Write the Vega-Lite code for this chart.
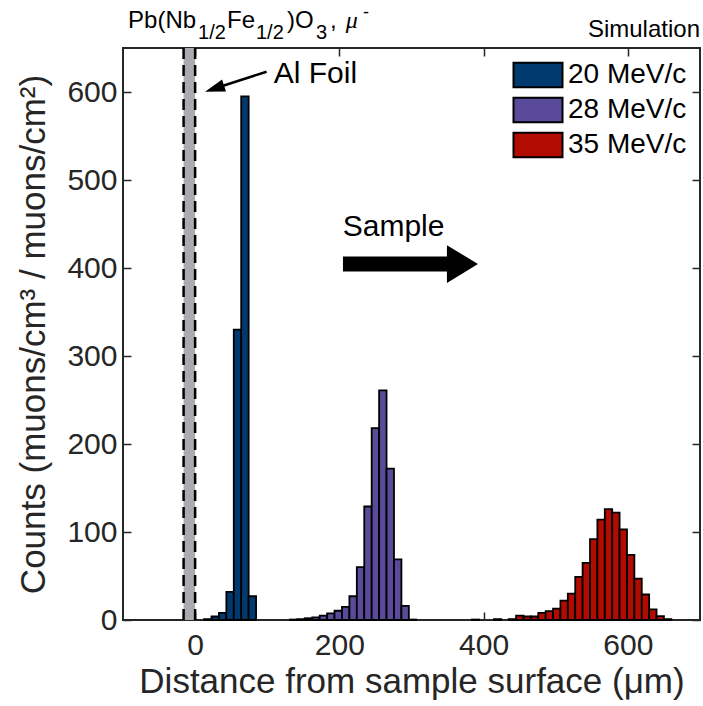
{
  "$schema": "https://vega.github.io/schema/vega-lite/v6.json",
  "width": 577,
  "height": 572,
  "autosize": {"type": "none"},
  "padding": {"left": 123, "top": 48, "right": 3, "bottom": 86},
  "background": "white",
  "config": {
    "view": {"stroke": "#262626", "strokeWidth": 2},
    "font": "Liberation Sans",
    "axis": {
      "grid": false, "domain": false,
      "labelFont": "Liberation Sans", "titleFont": "Liberation Sans",
      "labelColor": "#262626", "titleColor": "#262626", "tickColor": "#262626",
      "tickWidth": 1.5, "tickSize": -8,
      "labelFontSize": 30, "titleFontSize": 35, "titleFontWeight": "normal"
    },
    "legend": {
      "orient": "top-right", "offset": 12, "padding": 1,
      "labelFont": "Liberation Sans", "labelFontSize": 28, "labelColor": "#000000",
      "symbolType": "M-1.96,-0.98L1.96,-0.98L1.96,0.98L-1.96,0.98Z", "symbolSize": 625,
      "symbolStrokeColor": "#000000", "symbolStrokeWidth": 2, "symbolOpacity": 1,
      "labelOffset": 16, "rowPadding": 1
    }
  },
  "datasets": {
    "hist": [
      {"series": "20 MeV/c", "start": 12.4, "end": 22.7, "count": 1},
      {"series": "20 MeV/c", "start": 22.7, "end": 33.0, "count": 4},
      {"series": "20 MeV/c", "start": 33.0, "end": 43.3, "count": 8},
      {"series": "20 MeV/c", "start": 43.3, "end": 53.6, "count": 32},
      {"series": "20 MeV/c", "start": 53.6, "end": 63.9, "count": 330},
      {"series": "20 MeV/c", "start": 63.9, "end": 74.2, "count": 595},
      {"series": "20 MeV/c", "start": 74.2, "end": 84.5, "count": 27},
      {"series": "28 MeV/c", "start": 131.5, "end": 141.8, "count": 0.5},
      {"series": "28 MeV/c", "start": 141.8, "end": 152.1, "count": 1},
      {"series": "28 MeV/c", "start": 152.1, "end": 162.4, "count": 2},
      {"series": "28 MeV/c", "start": 162.4, "end": 172.7, "count": 3},
      {"series": "28 MeV/c", "start": 172.7, "end": 183.0, "count": 5},
      {"series": "28 MeV/c", "start": 183.0, "end": 193.3, "count": 7.5},
      {"series": "28 MeV/c", "start": 193.3, "end": 203.6, "count": 10.5},
      {"series": "28 MeV/c", "start": 203.6, "end": 213.9, "count": 15},
      {"series": "28 MeV/c", "start": 213.9, "end": 224.2, "count": 27},
      {"series": "28 MeV/c", "start": 224.2, "end": 234.5, "count": 60},
      {"series": "28 MeV/c", "start": 234.5, "end": 244.8, "count": 129},
      {"series": "28 MeV/c", "start": 244.8, "end": 255.1, "count": 218},
      {"series": "28 MeV/c", "start": 255.1, "end": 265.4, "count": 261},
      {"series": "28 MeV/c", "start": 265.4, "end": 275.7, "count": 172},
      {"series": "28 MeV/c", "start": 275.7, "end": 286.0, "count": 69},
      {"series": "28 MeV/c", "start": 286.0, "end": 296.3, "count": 16},
      {"series": "28 MeV/c", "start": 296.3, "end": 306.6, "count": 0.5},
      {"series": "35 MeV/c", "start": 383.5, "end": 393.75, "count": 0.5},
      {"series": "35 MeV/c", "start": 414.25, "end": 424.5, "count": 1},
      {"series": "35 MeV/c", "start": 434.75, "end": 445, "count": 1},
      {"series": "35 MeV/c", "start": 445, "end": 455.25, "count": 5},
      {"series": "35 MeV/c", "start": 455.25, "end": 465.5, "count": 4},
      {"series": "35 MeV/c", "start": 465.5, "end": 475.75, "count": 4},
      {"series": "35 MeV/c", "start": 475.75, "end": 486, "count": 8},
      {"series": "35 MeV/c", "start": 486, "end": 496.25, "count": 10},
      {"series": "35 MeV/c", "start": 496.25, "end": 506.5, "count": 13},
      {"series": "35 MeV/c", "start": 506.5, "end": 516.75, "count": 22},
      {"series": "35 MeV/c", "start": 516.75, "end": 527, "count": 30},
      {"series": "35 MeV/c", "start": 527, "end": 537.25, "count": 49},
      {"series": "35 MeV/c", "start": 537.25, "end": 547.5, "count": 65},
      {"series": "35 MeV/c", "start": 547.5, "end": 557.75, "count": 92},
      {"series": "35 MeV/c", "start": 557.75, "end": 568, "count": 114},
      {"series": "35 MeV/c", "start": 568, "end": 578.25, "count": 126},
      {"series": "35 MeV/c", "start": 578.25, "end": 588.5, "count": 122},
      {"series": "35 MeV/c", "start": 588.5, "end": 598.75, "count": 103},
      {"series": "35 MeV/c", "start": 598.75, "end": 609, "count": 74},
      {"series": "35 MeV/c", "start": 609, "end": 619.25, "count": 47},
      {"series": "35 MeV/c", "start": 619.25, "end": 629.5, "count": 29},
      {"series": "35 MeV/c", "start": 629.5, "end": 639.75, "count": 12},
      {"series": "35 MeV/c", "start": 639.75, "end": 650, "count": 4.5},
      {"series": "35 MeV/c", "start": 650, "end": 660.25, "count": 1}
    ],
    "foil": [{"edge": -16}, {"edge": 0}]
  },
  "layer": [
    {
      "data": {"values": [{"a": -16, "b": 0}]},
      "mark": {"type": "rect", "fill": "#A9ABAE"},
      "encoding": {
        "x": {"field": "a", "type": "quantitative", "scale": {"domain": [-100, 700], "nice": false, "zero": false},
              "axis": {"orient": "top", "labels": false, "title": null, "values": [0, 200, 400, 600]}},
        "x2": {"field": "b"},
        "y": {"datum": 0, "type": "quantitative", "scale": {"domain": [0, 650], "nice": false},
              "axis": {"orient": "right", "labels": false, "title": null, "values": [0, 100, 200, 300, 400, 500, 600]}},
        "y2": {"datum": 650}
      }
    },
    {
      "data": {"name": "foil"},
      "mark": {"type": "rule", "color": "#000000", "strokeWidth": 2.5, "strokeDash": [11, 6]},
      "encoding": {
        "x": {"field": "edge", "type": "quantitative", "axis": null}
      }
    },
    {
      "data": {"name": "hist"},
      "mark": {"type": "rect", "stroke": "#000000", "strokeWidth": 1.8},
      "encoding": {
        "x": {"field": "start", "type": "quantitative",
              "axis": {"orient": "bottom", "values": [0, 200, 400, 600], "labelPadding": 18,
                       "title": "Distance from sample surface (μm)", "titlePadding": 4}},
        "x2": {"field": "end"},
        "y": {"field": "count", "type": "quantitative",
              "axis": {"orient": "left", "values": [0, 100, 200, 300, 400, 500, 600], "labelPadding": 14,
                       "title": "Counts (muons/cm³ / muons/cm²)", "titlePadding": 15}},
        "y2": {"datum": 0},
        "color": {"field": "series", "type": "nominal",
                  "scale": {"domain": ["20 MeV/c", "28 MeV/c", "35 MeV/c"], "range": ["#003A6E", "#5A4B9A", "#B20C02"]},
                  "legend": {"title": null}}
      }
    },
    {
      "data": {"values": [{}]},
      "mark": {"type": "rule", "color": "#000000", "strokeWidth": 2.5},
      "encoding": {
        "x": {"datum": 99, "type": "quantitative", "axis": null},
        "y": {"datum": 623, "type": "quantitative", "axis": null},
        "x2": {"datum": 27},
        "y2": {"datum": 604}
      }
    },
    {
      "data": {"values": [{}]},
      "mark": {"type": "point", "shape": "M0,0L1,-0.32L1,0.32Z", "size": 1600, "angle": 342, "filled": true, "fill": "#000000", "opacity": 1, "strokeWidth": 0},
      "encoding": {
        "x": {"datum": 13.7, "type": "quantitative", "axis": null},
        "y": {"datum": 600.4, "type": "quantitative", "axis": null}
      }
    },
    {
      "data": {"values": [{}]},
      "mark": {"type": "point", "shape": "M-1,-0.111L0.54,-0.111L0.54,-0.28L1,0L0.54,0.28L0.54,0.111L-1,0.111Z", "size": 18225, "filled": true, "fill": "#000000", "opacity": 1, "strokeWidth": 0},
      "encoding": {
        "x": {"datum": 298.6, "type": "quantitative", "axis": null},
        "y": {"datum": 404.5, "type": "quantitative", "axis": null}
      }
    },
    {
      "data": {"values": [{}]},
      "mark": {"type": "text", "text": "Al Foil", "fontSize": 30, "align": "left", "baseline": "alphabetic", "color": "#000000", "font": "Liberation Sans"},
      "encoding": {
        "x": {"datum": 109, "type": "quantitative", "axis": null},
        "y": {"datum": 610, "type": "quantitative", "axis": null}
      }
    },
    {
      "data": {"values": [{}]},
      "mark": {"type": "text", "text": "Sample", "fontSize": 30, "align": "left", "baseline": "alphabetic", "color": "#000000", "font": "Liberation Sans"},
      "encoding": {
        "x": {"datum": 204.6, "type": "quantitative", "axis": null},
        "y": {"datum": 436.4, "type": "quantitative", "axis": null}
      }
    },
    {
      "data": {"values": [{}]},
      "mark": {"type": "text", "text": "Pb(Nb", "fontSize": 24, "align": "left", "baseline": "alphabetic", "color": "#000000", "font": "Liberation Sans"},
      "encoding": {
        "x": {"datum": -93, "type": "quantitative", "axis": null},
        "y": {"datum": 672.4, "type": "quantitative", "axis": null}
      }
    },
    {
      "data": {"values": [{}]},
      "mark": {"type": "text", "text": "1/2", "fontSize": 20, "align": "left", "baseline": "alphabetic", "color": "#000000", "font": "Liberation Sans"},
      "encoding": {
        "x": {"datum": 4, "type": "quantitative", "axis": null},
        "y": {"datum": 660.2, "type": "quantitative", "axis": null}
      }
    },
    {
      "data": {"values": [{}]},
      "mark": {"type": "text", "text": "Fe", "fontSize": 24, "align": "left", "baseline": "alphabetic", "color": "#000000", "font": "Liberation Sans"},
      "encoding": {
        "x": {"datum": 44.2, "type": "quantitative", "axis": null},
        "y": {"datum": 672.4, "type": "quantitative", "axis": null}
      }
    },
    {
      "data": {"values": [{}]},
      "mark": {"type": "text", "text": "1/2", "fontSize": 20, "align": "left", "baseline": "alphabetic", "color": "#000000", "font": "Liberation Sans"},
      "encoding": {
        "x": {"datum": 84.4, "type": "quantitative", "axis": null},
        "y": {"datum": 660.2, "type": "quantitative", "axis": null}
      }
    },
    {
      "data": {"values": [{}]},
      "mark": {"type": "text", "text": ")O", "fontSize": 24, "align": "left", "baseline": "alphabetic", "color": "#000000", "font": "Liberation Sans"},
      "encoding": {
        "x": {"datum": 127.4, "type": "quantitative", "axis": null},
        "y": {"datum": 672.4, "type": "quantitative", "axis": null}
      }
    },
    {
      "data": {"values": [{}]},
      "mark": {"type": "text", "text": "3", "fontSize": 20, "align": "left", "baseline": "alphabetic", "color": "#000000", "font": "Liberation Sans"},
      "encoding": {
        "x": {"datum": 167.6, "type": "quantitative", "axis": null},
        "y": {"datum": 660.2, "type": "quantitative", "axis": null}
      }
    },
    {
      "data": {"values": [{}]},
      "mark": {"type": "text", "text": ",", "fontSize": 24, "align": "left", "baseline": "alphabetic", "color": "#000000", "font": "Liberation Sans"},
      "encoding": {
        "x": {"datum": 187, "type": "quantitative", "axis": null},
        "y": {"datum": 672.4, "type": "quantitative", "axis": null}
      }
    },
    {
      "data": {"values": [{}]},
      "mark": {"type": "text", "text": "μ", "fontSize": 24, "fontStyle": "italic", "align": "left", "baseline": "alphabetic", "color": "#000000", "font": "Liberation Serif"},
      "encoding": {
        "x": {"datum": 209, "type": "quantitative", "axis": null},
        "y": {"datum": 672.4, "type": "quantitative", "axis": null}
      }
    },
    {
      "data": {"values": [{}]},
      "mark": {"type": "text", "text": "-", "fontSize": 18, "align": "left", "baseline": "alphabetic", "color": "#000000", "font": "Liberation Sans"},
      "encoding": {
        "x": {"datum": 232.8, "type": "quantitative", "axis": null},
        "y": {"datum": 684, "type": "quantitative", "axis": null}
      }
    },
    {
      "data": {"values": [{}]},
      "mark": {"type": "text", "text": "Simulation", "fontSize": 24, "align": "right", "baseline": "alphabetic", "color": "#000000", "font": "Liberation Sans"},
      "encoding": {
        "x": {"datum": 700, "type": "quantitative", "axis": null},
        "y": {"datum": 663, "type": "quantitative", "axis": null}
      }
    }
  ],
  "resolve": {"axis": {"x": "independent", "y": "independent"}}
}
